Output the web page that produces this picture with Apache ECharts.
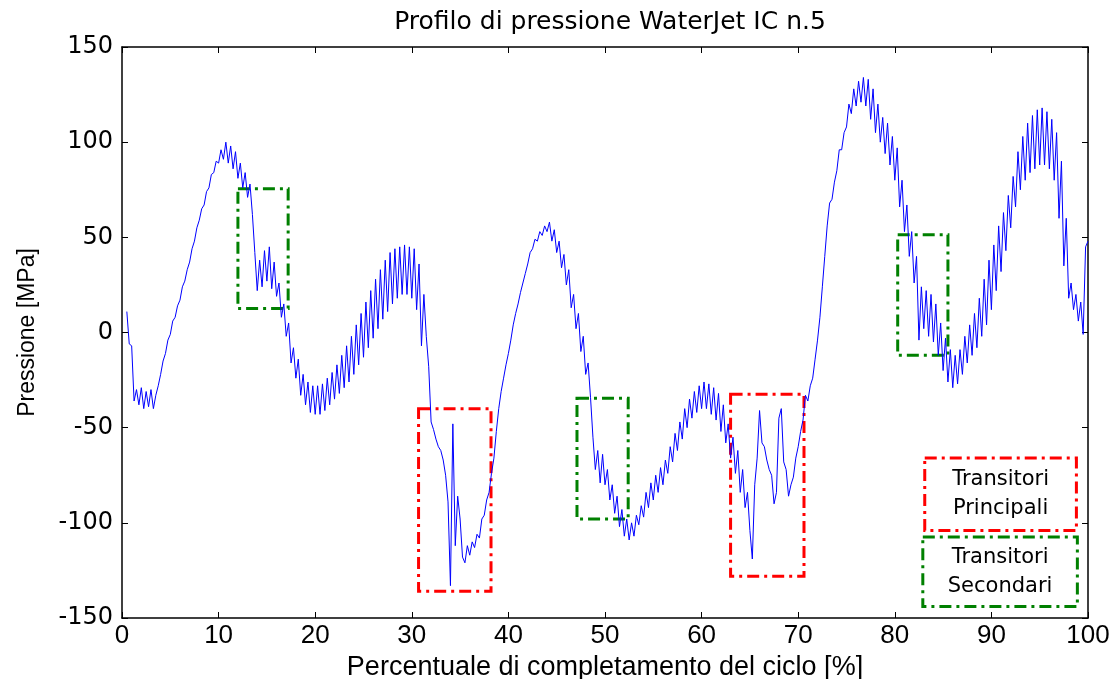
<!DOCTYPE html>
<html>
<head>
<meta charset="utf-8">
<script src="https://cdn.jsdelivr.net/npm/echarts@6/dist/echarts.min.js"></script>
<style>html,body{margin:0;padding:0;background:#fff}#c{width:1116px;height:679px}</style>
</head>
<body>
<div id="c"></div>
<script>
// ---- data ----
const titleText = 'Profilo di pressione WaterJet IC n.5';
const xName = 'Percentuale di completamento del ciclo [%]';
const yName = 'Pressione [MPa]';
const xTicks = [0, 10, 20, 30, 40, 50, 60, 70, 80, 90, 100];
const yTicks = [-150, -100, -50, 0, 50, 100, 150];

// sampling grid of the trace (cycle %): samples A at start + k*step, samples B half a step later
const pctStart = 0.5;
const pctStep = 0.5;

// pressure [MPa] at x = 0.5, 1.0, ... 100.0
const pressA = [
  11, -7, -30, -29, -31, -30, -33, -22, -11, -1,
  8, 17, 27, 37, 48, 59, 67, 76, 84, 89,
  91, 89, 86, 81, 76, 71, 62, 22, 24, 27,
  23, 19, 8, -2, -16, -24, -33, -38, -42, -43,
  -43, -41, -38, -35, -32, -29, -26, -22, -17, -13,
  -8, -3, 2, 7, 11, 15, 18, 20, 20, 18,
  12, -7, -2, -47, -56, -62, -75, -133, -112, -98,
  -121, -117, -113, -108, -96, -84, -66, -40, -24, -11,
  4, 15, 26, 36, 44, 48, 51, 53, 48, 42,
  34, 25, 13, 2, -10, -22, -34, -72, -79, -80,
  -88, -95, -102, -107, -109, -107, -101, -97, -92, -88,
  -84, -80, -74, -68, -62, -56, -50, -45, -42, -40,
  -40, -43, -46, -52, -58, -66, -74, -84, -92, -104,
  -80, -41, -60, -72, -90, -45, -68, -86, -76, -60,
  -46, -36, -24, -4, 24, 56, 70, 85, 96, 108,
  115, 119, 121, 119, 112, 105, 100, 94, 88, 80,
  66, 53, 40, 26, -4, 2, -2, -5, -12, -20,
  -26, -29, -27, -22, -16, -12, -8, -2, 4, 12,
  22, 32, 43, 55, 66, 75, 80, 84, 86, 88,
  88, 86, 80, 60, 35, 18, 12, 6, -1, 48
];
// pressure [MPa] at x = 0.75, 1.25, ... 99.75
const pressB = [
  -6, -36, -38, -40, -39, -40, -28, -15, -4, 6,
  14, 24, 33, 44, 55, 65, 74, 83, 90, 96,
  100, 98, 95, 89, 84, 78, 42, 38, 43, 45,
  37, 26, 15, 5, -8, -14, -22, -26, -28, -28,
  -27, -24, -21, -17, -12, -7, -2, 4, 10, 16,
  22, 28, 33, 38, 42, 44, 45, 46, 45, 44,
  36, 20, -18, -51, -60, -67, -89, -48, -86, -118,
  -112, -110, -106, -98, -88, -74, -52, -31, -17, -4,
  10, 21, 31, 42, 49, 53, 56, 58, 54, 48,
  41, 33, 20, 10, -2, -16, -55, -62, -64, -72,
  -80, -86, -93, -98, -100, -96, -91, -84, -79, -75,
  -71, -67, -60, -53, -47, -40, -35, -31, -28, -26,
  -27, -29, -32, -38, -48, -55, -62, -72, -84, -119,
  -66, -58, -67, -75, -84, -40, -72, -80, -66, -52,
  -33, -28, -14, 8, 40, 68, 79, 96, 105, 120,
  128, 132, 134, 133, 128, 120, 113, 110, 103, 97,
  80, 67, 53, 40, 24, 22, 20, 15, 5, -3,
  -9, -12, -9, -2, 4, 10, 18, 28, 38, 46,
  56, 63, 72, 82, 95, 103, 110, 114, 117, 118,
  116, 112, 105, 90, 60, 26, 20, 16, 45
];

// annotated transients: [x from, x to, y top, y bottom] in data units
const mainTransients = [[30.7, 38.2, -40, -136], [63.0, 70.6, -32.5, -128]];
const secondaryTransients = [[12.0, 17.2, 75.5, 12.6], [47.1, 52.4, -34.6, -98], [80.3, 85.5, 51.4, -12]];
// legend boxes
const legendMain = { text: 'Transitori\nPrincipali', box: [83.1, 98.8, -66, -104] };
const legendSecondary = { text: 'Transitori\nSecondari', box: [82.9, 98.9, -107.5, -144] };

// ---- build ----
const trace = [];
pressA.forEach((v, i) => {
  const x = pctStart + i * pctStep;
  trace.push([x, v]);
  if (i < pressB.length) trace.push([x + pctStep / 2, pressB[i]]);
});

const FONT = "'DejaVu Sans', sans-serif";
const NARROW = "'Liberation Sans Narrow', 'Arial Narrow', 'Liberation Sans', sans-serif";
const dashDot = [12, 5, 3, 5];
function boxes(list, color, label) {
  return list.map(b => [
    { xAxis: b[0], yAxis: b[2], itemStyle: { color: 'rgba(0,0,0,0)', borderColor: color, borderWidth: 3, borderType: dashDot },
      label: label ? { show: true, position: 'inside', formatter: label, color: '#000', fontSize: 21, lineHeight: 29, fontFamily: FONT } : { show: false } },
    { xAxis: b[1], yAxis: b[3] }
  ]);
}

const chart = echarts.init(document.getElementById('c'), null, { renderer: 'canvas' });
const axisLine = { show: true, onZero: false, lineStyle: { color: '#000', width: 1.5 } };
const tick = { show: true, inside: true, length: 6, lineStyle: { color: '#000', width: 1 } };
chart.setOption({
  animation: false,
  backgroundColor: '#fff',
  title: { text: titleText, left: 605, top: 5, textAlign: 'center',
    textStyle: { fontFamily: FONT, fontWeight: 'normal', fontSize: 25, color: '#000' } },
  grid: { left: 122, right: 28, top: 47, bottom: 61, containLabel: false, outerBoundsMode: 'none' },
  xAxis: [
    { type: 'value', min: xTicks[0], max: xTicks[xTicks.length - 1], interval: 10,
      name: xName, nameLocation: 'middle', nameGap: 21,
      nameTextStyle: { fontFamily: NARROW, fontSize: 27, color: '#000' },
      axisLine, axisTick: tick, splitLine: { show: false },
      axisLabel: { color: '#000', fontFamily: NARROW, fontSize: 26, margin: 5 } },
    { type: 'value', position: 'top', min: xTicks[0], max: xTicks[xTicks.length - 1], interval: 10,
      axisLine, axisTick: tick, splitLine: { show: false }, axisLabel: { show: false } }
  ],
  yAxis: [
    { type: 'value', min: yTicks[0], max: yTicks[yTicks.length - 1], interval: 50,
      name: yName, nameLocation: 'middle', nameGap: 83,
      nameTextStyle: { fontFamily: NARROW, fontSize: 23, color: '#000' },
      axisLine, axisTick: tick, splitLine: { show: false },
      axisLabel: { color: '#000', fontFamily: FONT, fontSize: 24, margin: 9 } },
    { type: 'value', position: 'right', min: yTicks[0], max: yTicks[yTicks.length - 1], interval: 50,
      axisLine, axisTick: tick, splitLine: { show: false }, axisLabel: { show: false } }
  ],
  series: [
    { type: 'line', data: trace, showSymbol: false, sampling: null, clip: true,
      lineStyle: { color: '#0000ff', width: 1 }, z: 3 },
    { type: 'line', data: [], silent: true, z: 4,
      markArea: { silent: true, data: [
        ...boxes(mainTransients, '#ff0000'),
        ...boxes(secondaryTransients, '#008000'),
        ...boxes([legendMain.box], '#ff0000', legendMain.text),
        ...boxes([legendSecondary.box], '#008000', legendSecondary.text)
      ] } }
  ]
});
</script>
</body>
</html>
